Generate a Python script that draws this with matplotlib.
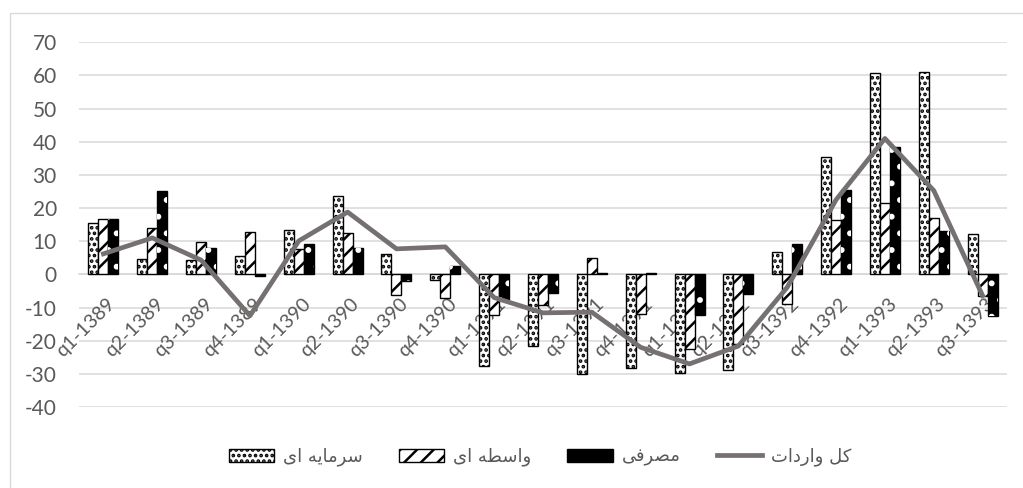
import matplotlib.pyplot as plt
import numpy as np
from matplotlib.patches import Rectangle
from matplotlib.lines import Line2D

# quarters (Persian calendar)
quarters = ['q1-1389', 'q2-1389', 'q3-1389', 'q4-1389',
            'q1-1390', 'q2-1390', 'q3-1390', 'q4-1390',
            'q1-1391', 'q2-1391', 'q3-1391', 'q4-1391',
            'q1-1392', 'q2-1392', 'q3-1392', 'q4-1392',
            'q1-1393', 'q2-1393', 'q3-1393']

# growth rates
capital = [15.4, 4.5, 4.2, 5.5, 13.3, 23.7, 6.1, -1.8,
           -27.7, -21.6, -30.0, -28.2, -29.8, -28.8, 6.8, 35.4,
           60.6, 61.0, 12.2]
intermediate = [16.6, 13.9, 9.8, 12.8, 7.8, 12.6, -6.1, -7.1,
                -12.3, -9.2, 5.0, -12.1, -22.4, -20.9, -8.9, 16.4,
                21.5, 16.9, -6.4]
consumer = [16.6, 25.2, 8.0, -0.5, 9.3, 8.0, -2.0, 2.6,
            -7.6, -5.7, 0.3, 0.3, -12.4, -6.0, 9.3, 25.5,
            38.3, 13.1, -12.7]
total = [6.2, 11.0, 4.3, -12.5, 10.1, 18.8, 7.7, 8.3,
         -7.0, -11.6, -11.4, -22.0, -27.0, -21.6, -3.9, 22.5,
         41.0, 25.3, -6.4]

labels = ['سرمایه ای', 'واسطه ای', 'مصرفی', 'کل واردات']

# minimal persian shaping (matplotlib has no bidi / joining)
FORMS = {
    'س': '\uFEB1\uFEB2\uFEB3\uFEB4', 'ر': '\uFEAD\uFEAE',
    'م': '\uFEE1\uFEE2\uFEE3\uFEE4', 'ا': '\uFE8D\uFE8E',
    'ی': '\uFEEF\uFEF0\uFEF3\uFEF4', 'ه': '\uFEE9\uFEEA\uFEEB\uFEEC',
    'و': '\uFEED\uFEEE', 'ط': '\uFEC1\uFEC2\uFEC3\uFEC4',
    'ص': '\uFEB9\uFEBA\uFEBB\uFEBC', 'ف': '\uFED1\uFED2\uFED3\uFED4',
    'ک': '\uFB8E\uFB8F\uFB90\uFB91', 'ل': '\uFEDD\uFEDE\uFEDF\uFEE0',
    'د': '\uFEA9\uFEAA', 'ت': '\uFE95\uFE96\uFE97\uFE98',
}


def shape(text):
    out = []
    for i, ch in enumerate(text):
        if ch not in FORMS:
            out.append(ch)
            continue
        prev = text[i - 1] if i > 0 else ''
        nxt = text[i + 1] if i + 1 < len(text) else ''
        jp = prev in FORMS and len(FORMS[prev]) == 4
        jn = len(FORMS[ch]) == 4 and nxt in FORMS
        f = FORMS[ch]
        if jp and jn:
            out.append(f[3])
        elif jn:
            out.append(f[2])
        elif jp:
            out.append(f[1])
        else:
            out.append(f[0])
    return ''.join(reversed(out))


plt.rcParams['font.family'] = ['Lato', 'DejaVu Sans']
plt.rcParams['hatch.linewidth'] = 1.8
plt.rcParams['axes.unicode_minus'] = False

fig = plt.figure(figsize=(10.23, 4.88), dpi=100)
fig.patches.append(Rectangle((9.5 / 1023, -0.1), 1.2, 1 - 13.5 / 488 + 0.1,
                             transform=fig.transFigure, fill=False,
                             edgecolor='#d9d9d9', lw=1.0))
ax = fig.add_axes([79 / 1023, 1 - 407 / 488, 928 / 1023, (407 - 42.3) / 488])

x = np.arange(len(quarters))
w = 0.205
grey = '#595959'
line_col = '#767171'

ax.bar(x - w, capital, w, facecolor='white', edgecolor='black',
       hatch='...', lw=1.0, zorder=3)
ax.bar(x, intermediate, w, facecolor='white', edgecolor='black',
       hatch='//', lw=1.0, zorder=3)
ax.bar(x + w, consumer, w, facecolor='black', edgecolor='black',
       lw=1.0, zorder=3)
ax.bar(x + w, consumer, w, facecolor='none', edgecolor='white',
       hatch='.', lw=0, zorder=3.1)
ax.plot(x, total, color=line_col, lw=3.4, zorder=4)

ax.set_xlim(-0.5, len(quarters) - 0.5)
ax.set_ylim(-40, 70)
ax.set_yticks(np.arange(-40, 71, 10))
ax.yaxis.grid(True, color='#d9d9d9', lw=1.1, zorder=0)
ax.set_axisbelow(True)
for s in ['top', 'right', 'left']:
    ax.spines[s].set_visible(False)
ax.spines['bottom'].set_position(('data', 0))
ax.spines['bottom'].set_color('#d9d9d9')
ax.spines['bottom'].set_linewidth(1.1)
ax.tick_params(axis='both', length=0, labelcolor=grey)
ax.tick_params(axis='y', pad=16, labelsize=15)
ax.set_xticks(x)
ax.set_xticklabels([])

# category labels hang under the zero line, slanted like Excel does
for i, q in enumerate(quarters):
    ax.annotate(q, xy=(x[i], 0), xytext=(2, -15), textcoords='offset points',
                rotation=45, rotation_mode='anchor', ha='right', va='top',
                fontsize=14, color=grey, zorder=2)

h1 = Rectangle((0, 0), 1, 1, facecolor='white', edgecolor='black', hatch='...')
h2 = Rectangle((0, 0), 1, 1, facecolor='white', edgecolor='black', hatch='//')
h3 = Rectangle((0, 0), 1, 1, facecolor='black', edgecolor='black')
h4 = Line2D([0], [0], color=line_col, lw=3.4)
leg = fig.legend([h1, h2, h3, h4], [shape(t) for t in labels], ncol=4,
                 loc='center', bbox_to_anchor=(540 / 1023, 1 - 457 / 488),
                 frameon=False, fontsize=13, handlelength=2.5,
                 handleheight=0.8, columnspacing=2.0, handletextpad=0.5)
for t in leg.get_texts():
    t.set_color(grey)
    t.set_fontfamily(['DejaVu Sans'])

fig.savefig('out.png', dpi=100)
